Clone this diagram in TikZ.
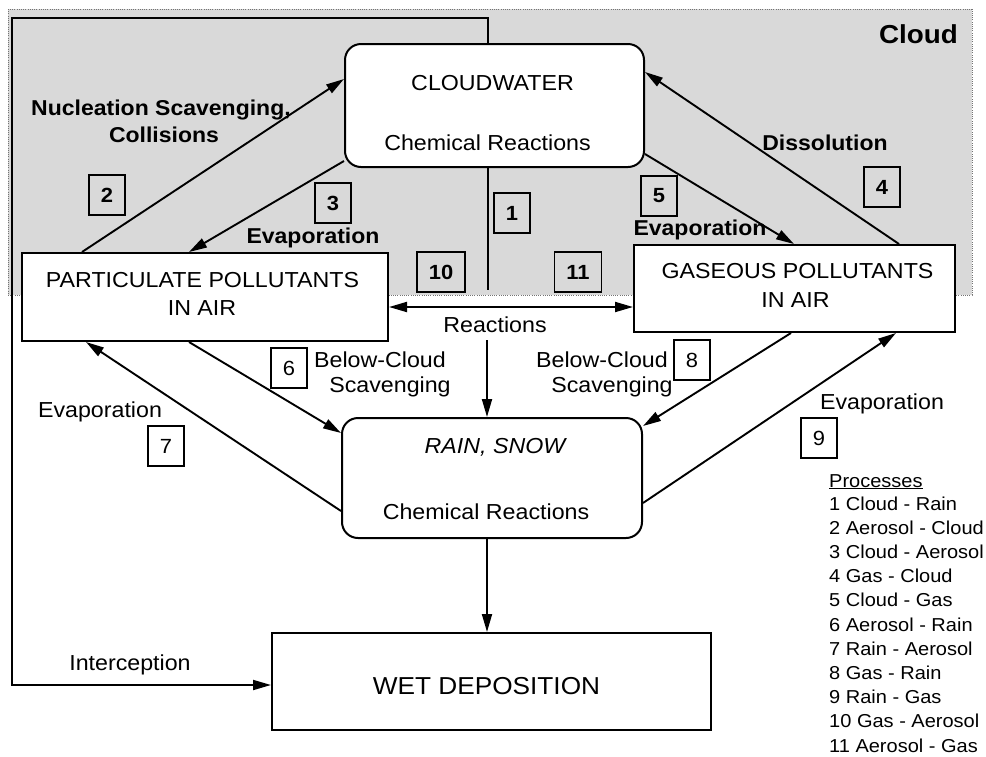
\documentclass[tikz,border=0pt]{standalone}
\usepackage{fontspec}
\setmainfont{Liberation Sans}[FakeStretch=1.07]
\usetikzlibrary{arrows.meta}
\begin{document}
\begin{tikzpicture}[x=1pt,y=-1pt,
  box/.style={draw, line width=2pt, fill=white, inner sep=0pt},
  rbox/.style={box, rounded corners=16pt},
  arr/.style={line width=1.9pt, -{Triangle[length=18pt,width=10pt]}},
  darr/.style={line width=1.9pt, {Triangle[length=18pt,width=10pt]}-{Triangle[length=18pt,width=10pt]}},
  plainline/.style={line width=1.9pt},
  txt/.style={anchor=base, inner sep=0pt, font=\fontsize{21.7pt}{25pt}\selectfont},
  btxt/.style={anchor=base, inner sep=0pt, font=\fontsize{21.5pt}{25pt}\selectfont\bfseries},
  numbox/.style={draw, line width=1.7pt, minimum height=40pt, inner xsep=12pt, inner ysep=0pt, font=\fontsize{20.5pt}{22pt}\selectfont},
  bnumbox/.style={numbox, font=\fontsize{20.5pt}{22pt}\selectfont\bfseries},
  leg/.style={anchor=base west, inner sep=0pt, font=\fontsize{18.7pt}{22pt}\selectfont}
]
\useasboundingbox (0,0) rectangle (986,756);
\fill[white] (0,0) rectangle (986,756);

% cloud region
\fill[black!15] (8,9) rectangle (972,295);
\draw[black!55, line width=0.8pt, dash pattern=on 1pt off 1.2pt] (8,9) rectangle (972,295);
\node[anchor=base east, inner sep=0pt, font=\fontsize{26pt}{30pt}\selectfont\bfseries] (cl) at (958,43) {Cloud};

% boxes
\node[rbox, minimum width=299pt, minimum height=123pt] (cw) at (494.5,105.5) {};
\node[box, minimum width=366pt, minimum height=88pt] (part) at (205,297) {};
\node[box, minimum width=321pt, minimum height=87pt] (gas) at (794.5,288.5) {};
\node[rbox, minimum width=300pt, minimum height=120pt] (rain) at (492,478) {};
\node[box, minimum width=439pt, minimum height=97pt] (wet) at (491.5,681.5) {};

% box texts
\node[txt] (cwt1) at (492.5,90) {CLOUDWATER};
\node[txt] (cwt2) at (487.5,150) {Chemical Reactions};
\node[txt] (pt1) at (202.5,287) {PARTICULATE POLLUTANTS};
\node[txt] (pt2) at (202,315) {IN AIR};
\node[txt] (gt1) at (797.5,278) {GASEOUS POLLUTANTS};
\node[txt] (gt2) at (795.5,307) {IN AIR};
\node[txt, font=\fontsize{21.7pt}{25pt}\selectfont\itshape] (rt1) at (495,453) {RAIN, SNOW};
\node[txt] (rt2) at (486,519) {Chemical Reactions};
\node[txt, font=\fontsize{24.5pt}{28pt}\selectfont] (wt) at (486.5,694) {WET DEPOSITION};

% helper coordinates
\coordinate (c1) at (488,290);
\coordinate (c2) at (487,340);
\coordinate (ic) at (12,18);

% connectors
\draw[arr] ([xshift=61pt]part.north west) -- ([yshift=-36pt]cw.north west);
\draw[arr] ([yshift=7pt]cw.south west) -- ([xshift=168pt]part.north west);
\draw[arr] ([xshift=266pt]gas.north west) -- ([yshift=-29pt]cw.north east);
\draw[arr] ([yshift=14pt]cw.south east) -- ([xshift=161pt]gas.north west);
\draw[arr] ([xshift=168pt]part.south west) -- ([yshift=-16pt]rain.north west);
\draw[arr] ([yshift=28pt]rain.south west) -- ([xshift=65pt]part.south west);
\draw[arr] ([xshift=158pt]gas.south west) -- ([yshift=-9pt]rain.north east);
\draw[arr] ([yshift=36pt]rain.south east) -- ([xshift=263pt]gas.south west);
\draw[darr] ([yshift=-10pt]part.east) -- ([yshift=-18.5pt]gas.west);
\draw[plainline] ([xshift=-6.5pt]cw.south) -- (c1);
\draw[arr] (c2) -- ([xshift=-5pt]rain.north);
\draw[arr] ([xshift=-5pt]rain.south) -- ([xshift=-4.5pt]wet.north);
\draw[arr] ([xshift=-6.5pt]cw.north) |- (ic) |- ([yshift=-3.5pt]wet.west);

% labels
\node[btxt] (l2a) at (161,115) {Nucleation Scavenging,};
\node[btxt] (l2b) at (164,142) {Collisions};
\node[btxt] (l3) at (313,243) {Evaporation};
\node[btxt] (l4) at (825,150) {Dissolution};
\node[btxt] (l5) at (700,235) {Evaporation};
\node[txt] (lr) at (495,332) {Reactions};
\node[txt] (l6a) at (380,367) {Below-Cloud};
\node[txt] (l6b) at (390,392) {Scavenging};
\node[txt] (l8a) at (602,367) {Below-Cloud};
\node[txt] (l8b) at (612,392) {Scavenging};
\node[txt] (l7) at (100,417) {Evaporation};
\node[txt] (l9) at (882,409) {Evaporation};
\node[txt] (li) at (130,670) {Interception};

% number boxes
\node[bnumbox] (n1) at (512,213) {1};
\node[bnumbox] (n2) at (107,195) {2};
\node[bnumbox] (n3) at (333,203) {3};
\node[bnumbox] (n4) at (882,187) {4};
\node[bnumbox] (n5) at (659,196) {5};
\node[numbox] (n6) at (289,368) {6};
\node[numbox] (n7) at (166,446) {7};
\node[numbox] (n8) at (692,360) {8};
\node[numbox] (n9) at (819,438) {9};
\node[bnumbox] (n10) at (441,272) {10};
\node[bnumbox] (n11) at (578,272) {11};

% legend
\node[leg] (lgh) at (829,487) {\underline{Processes}};
\foreach \t [count=\i] in {1 Cloud - Rain, 2 Aerosol - Cloud, 3 Cloud - Aerosol, 4 Gas - Cloud, 5 Cloud - Gas, 6 Aerosol - Rain, 7 Rain - Aerosol, 8 Gas - Rain, 9 Rain - Gas, 10 Gas - Aerosol, 11 Aerosol - Gas}
  \node[leg] (lg\i) at (829,{510+24.2*(\i-1)}) {\t};
\end{tikzpicture}
\end{document}
